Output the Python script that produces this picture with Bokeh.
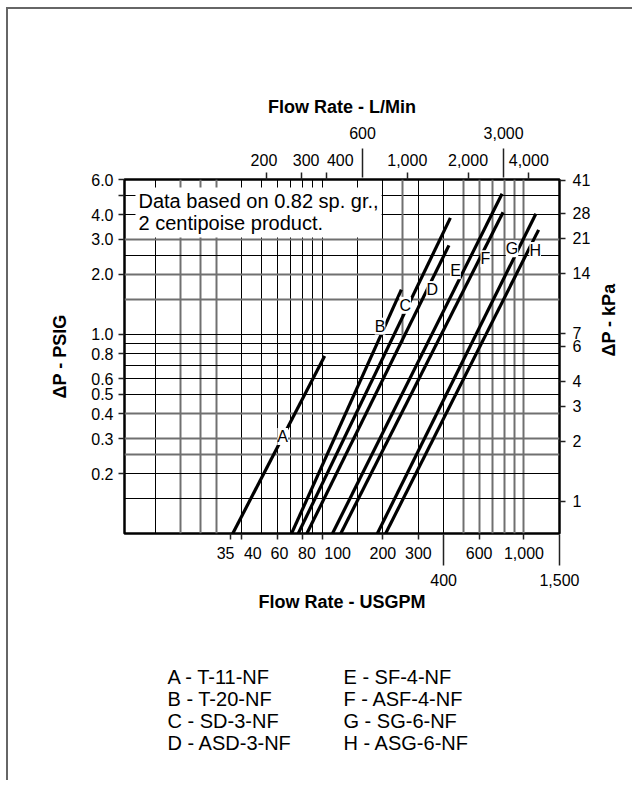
import math
from bokeh.plotting import figure
from bokeh.layouts import column
from bokeh.core.properties import value
from bokeh.models import (Range1d, LogScale, LogAxis, FixedTicker, NumeralTickFormatter,
                          Grid, ColumnDataSource, LabelSet, Label)
from bokeh.embed import file_html
from bokeh.resources import INLINE

# ---------------- data ----------------
series = ["A", "B", "C", "D", "E", "F", "G", "H"]
models = ["T-11-NF", "T-20-NF", "SD-3-NF", "ASD-3-NF",
          "SF-4-NF", "ASF-4-NF", "SG-6-NF", "ASG-6-NF"]
flow_start_gpm = [36.1, 70.6, 76.2, 84.1, 112.6, 123.8, 187.9, 206.5]
dp_start_psi = [0.10, 0.10, 0.10, 0.10, 0.10, 0.10, 0.10, 0.10]
flow_end_gpm = [103, 247, 432, 425, 779, 788, 1146, 1182]
dp_end_psi = [0.78, 1.68, 3.85, 2.80, 5.09, 4.11, 4.04, 3.35]
label_flow_gpm = [63.8, 193.7, 258.3, 351.3, 458, 644, 873, 1137]
label_dp_psi = [0.307, 1.10, 1.40, 1.68, 2.09, 2.40, 2.69, 2.64]

gpm_ticks_row1 = [35, 40, 60, 80, 100, 200, 300, 600, 1000]
gpm_ticks_row2 = [400, 1500]
lpm_ticks_row1 = [200, 300, 400, 1000, 2000, 4000]
lpm_ticks_row2 = [600, 3000]
psi_ticks = [0.2, 0.3, 0.4, 0.5, 0.6, 0.8, 1.0, 2.0, 3.0, 4.0, 6.0]
psi_minor_ticks = [5.0]
kpa_ticks = [1, 2, 3, 4, 6, 7, 14, 21, 28, 41]

grid_gpm_dark = [15, 40, 50, 60, 70, 80, 90, 100, 150, 200, 300, 400]
grid_gpm_gray = [20, 25, 30, 500, 600, 700, 800, 900, 1000]
grid_gpm_partial = [250]
grid_psi_dark = [0.15, 0.2, 0.5, 0.6, 0.7, 0.8, 0.9, 1.0, 2.5, 4.0, 5.0]
grid_psi_gray = [0.25, 0.3, 0.4, 1.5, 2.0, 3.0]

note_text = "Data based on 0.82 sp. gr.,\n2 centipoise product."

GPM_MIN, GPM_MAX = 10.5, 1500
PSI_MIN, PSI_MAX = 0.1, 6.0
LPM_PER_GPM = 3.785
KPA_PER_PSI = 6.895

FONT = "Liberation Sans"
TICK_FS = "16px"
NB = "\u00a0"

# page layout (pixels)
FRAME_L, FRAME_T, FRAME_W, FRAME_H = 124, 179, 435, 354
MAIN_BOTTOM_PAD = 100
MAIN_H = FRAME_T + FRAME_H + MAIN_BOTTOM_PAD
PAGE_H = 780

p = figure(frame_width=FRAME_W, frame_height=FRAME_H, x_axis_type="log", y_axis_type="log",
           x_range=Range1d(GPM_MIN, GPM_MAX), y_range=Range1d(PSI_MIN, PSI_MAX),
           output_backend="svg", toolbar_location=None,
           min_border_left=FRAME_L, min_border_right=65, min_border_top=FRAME_T,
           min_border_bottom=MAIN_BOTTOM_PAD)
p.extra_x_ranges = {"lpm": Range1d(GPM_MIN * LPM_PER_GPM, GPM_MAX * LPM_PER_GPM)}
p.extra_x_scales = {"lpm": LogScale()}
p.extra_y_ranges = {"kpa": Range1d(PSI_MIN * KPA_PER_PSI, PSI_MAX * KPA_PER_PSI)}
p.extra_y_scales = {"kpa": LogScale()}

p.xgrid.visible = False
p.ygrid.visible = False
p.outline_line_color = "black"
p.outline_line_width = 2.5
p.background_fill_color = "white"
p.border_fill_alpha = 0


def style_axis(ax, tick_out=6, tick_in=0, standoff=4):
    ax.axis_line_color = None
    ax.major_tick_out = tick_out
    ax.major_tick_in = tick_in
    ax.major_tick_line_color = "#222222"
    ax.major_tick_line_width = 1.5
    ax.minor_tick_line_color = None
    ax.major_label_standoff = standoff
    ax.major_label_text_font = FONT
    ax.major_label_text_font_size = TICK_FS
    ax.major_label_text_color = "black"
    ax.axis_label_text_font = FONT
    ax.axis_label_text_font_size = "18px"
    ax.axis_label_text_font_style = "bold"
    ax.axis_label_text_color = "black"


# grids
for ticks, dim, color, width in [
        (grid_gpm_dark, 0, "black", 1), (grid_gpm_gray, 0, "#707070", 2),
        (grid_psi_dark, 1, "black", 1), (grid_psi_gray, 1, "#707070", 2)]:
    g = Grid(dimension=dim, ticker=FixedTicker(ticks=ticks, minor_ticks=[]),
             grid_line_color=color, grid_line_width=width)
    p.add_layout(g)
gkw = dict(dimension=0, ticker=FixedTicker(ticks=grid_gpm_partial, minor_ticks=[]),
           grid_line_color="#707070", grid_line_width=2)
if "cross_bounds" in Grid.properties():
    gkw["cross_bounds"] = (0.9, PSI_MAX)
p.add_layout(Grid(**gkw))

# bottom axes (US gpm)
bx1 = p.xaxis[0]
bx1.ticker = FixedTicker(ticks=gpm_ticks_row1, minor_ticks=[])
bx1.formatter = NumeralTickFormatter(format="0,0")
bx1.major_label_overrides = {35: "35" + NB * 2, 40: NB * 5 + "40", 60: NB + "60",
                             80: NB * 2 + "80", 100: NB * 7 + "100"}
style_axis(bx1, tick_out=6, standoff=5)

bx2 = LogAxis(ticker=FixedTicker(ticks=gpm_ticks_row2, minor_ticks=[]),
              formatter=NumeralTickFormatter(format="0,0"),
              axis_label="Flow Rate - USGPM")
style_axis(bx2, tick_out=1, tick_in=30, standoff=8)
bx2.axis_label_standoff = 3
p.add_layout(bx2, "below")

# top axes (L/min)
tx1 = LogAxis(x_range_name="lpm", ticker=FixedTicker(ticks=lpm_ticks_row1, minor_ticks=[]),
              formatter=NumeralTickFormatter(format="0,0"))
tx1.major_label_overrides = {200: "200" + NB, 300: NB * 2 + "300", 400: NB * 6 + "400"}
style_axis(tx1, tick_out=7, standoff=4)
p.add_layout(tx1, "above")
tx2 = LogAxis(x_range_name="lpm", ticker=FixedTicker(ticks=lpm_ticks_row2, minor_ticks=[]),
              formatter=NumeralTickFormatter(format="0,0"),
              axis_label="Flow Rate - L/Min")
style_axis(tx2, tick_out=0, tick_in=29, standoff=10)
tx2.axis_label_standoff = 7
p.add_layout(tx2, "above")

# left axis (psi)
ly = p.yaxis[0]
ly.ticker = FixedTicker(ticks=psi_ticks, minor_ticks=psi_minor_ticks)
ly.formatter = NumeralTickFormatter(format="0.0")
style_axis(ly, tick_out=6, standoff=5)
ly.minor_tick_line_color = "#222222"
ly.minor_tick_line_width = 1.5
ly.minor_tick_out = 6
ly.minor_tick_in = 0
ly.axis_label = "ΔP - PSIG"
ly.axis_label_standoff = 18

# right axis (kPa)
ry = LogAxis(y_range_name="kpa", ticker=FixedTicker(ticks=kpa_ticks, minor_ticks=[]),
             formatter=NumeralTickFormatter(format="0"), axis_label="ΔP - kPa")
style_axis(ry, tick_out=6, standoff=7)
ry.axis_label_standoff = 16
ry.axis_label_orientation = math.pi / 2
p.add_layout(ry, "right")

# curves
p.multi_line(xs=[[a, b] for a, b in zip(flow_start_gpm, flow_end_gpm)],
             ys=[[a, b] for a, b in zip(dp_start_psi, dp_end_psi)],
             line_color="black", line_width=3.2)

# curve letters
src = ColumnDataSource(dict(x=label_flow_gpm, y=label_dp_psi, text=series))
p.add_layout(LabelSet(x="x", y="y", text="text", source=src, text_align="center",
                      text_baseline="middle", text_font=value(FONT), text_font_size=value("16px"),
                      text_color="black", background_fill_color="white"))

# note box
nkw = dict(x=11.9, y=5.47, text=note_text, text_align="left", text_baseline="top",
           text_font=FONT, text_font_size="20px", text_color="black",
           text_line_height=1.0, background_fill_color="white")
if "padding" in Label.properties():
    nkw["padding"] = 3
p.add_layout(Label(**nkw))

# legend panel (model list under the chart); its ranges are page pixels
LEG_H = PAGE_H - MAIN_H
leg = figure(frame_width=FRAME_W, frame_height=LEG_H,
             x_range=Range1d(FRAME_L, FRAME_L + FRAME_W), y_range=Range1d(PAGE_H, MAIN_H),
             output_backend="svg", toolbar_location=None,
             min_border_left=FRAME_L, min_border_right=65, min_border_top=0, min_border_bottom=0)
leg.axis.visible = False
leg.grid.visible = False
leg.outline_line_color = None
leg.background_fill_alpha = 0
leg.border_fill_alpha = 0
leg_x = [167 + (i // 4) * 176 for i in range(len(series))]
leg_y = [676 + (i % 4) * 22 for i in range(len(series))]
leg_text = [f"{s} - {m}" for s, m in zip(series, models)]
leg.text(x=leg_x, y=leg_y, text=leg_text, text_font=value(FONT), text_font_size=value("20px"),
         text_align="left", text_baseline="middle", text_color="black")

page = column(p, leg, spacing=0)
page.styles = {
    "background": "linear-gradient(#666666,#666666) 6px 7px / 2px calc(100% - 7px) no-repeat, "
                  "linear-gradient(#666666,#666666) 6px 7px / calc(100% - 6px) 2px no-repeat, white"
}

open("out.html", "w").write(file_html(page, INLINE))
